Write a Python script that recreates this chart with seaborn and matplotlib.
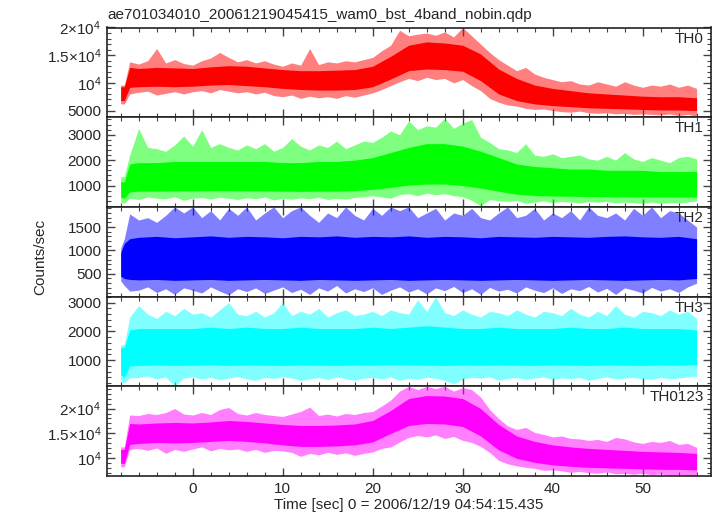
import numpy as np
import pandas as pd
import matplotlib
matplotlib.use('Agg')
import matplotlib.pyplot as plt
from matplotlib.ticker import FixedLocator, FixedFormatter, MultipleLocator
import seaborn as sns

# light curve of the WAM burst, 4 energy bands + sum
# the dense noisy curve is drawn as two bands:
# outer = spike envelope (1 s steps), core = dense part (2 s steps)

t_out = [-8, -7.6] + list(range(-7, 57))
t_core = [-8, -7.6, -7] + list(range(-6, 57, 2))

th0_hi = [9600, 9600, 13800, 13400, 14000, 16200, 13600, 14200, 13500,
          13200, 14000, 14500, 15500, 14600, 13800, 14200, 13600, 14000, 13400,
          13000, 13600, 13200, 16200, 13300, 13800, 13600, 14000, 13800, 14200,
          14600, 15800, 16800, 19500, 18500, 18800, 19000, 18600, 19200, 18300,
          20000, 18500, 17000, 15500, 14200, 13200, 12200, 12800, 11600, 11000,
          10600, 10200, 10400, 9800, 9600, 10200, 9800, 9400, 10200, 9600,
          9200, 9600, 9400, 9800, 9200, 9600, 9000]
th0_lo = [6200, 6200, 8000, 8300, 8500, 7800, 8100, 8400, 8000,
          8400, 8600, 8200, 8800, 8500, 8200, 8400, 8000, 8300, 7700,
          7500, 7800, 7200, 7600, 7300, 7500, 7200, 7700, 7400, 7800,
          8200, 8800, 9500, 10200, 10800, 10400, 11000, 10600, 10800, 10000,
          10600, 9500, 8600, 7200, 6500, 6000, 5800, 5400, 5200, 5300,
          5000, 4800, 4700, 4900, 4600, 4500, 4600, 4400, 4500, 4300,
          4400, 4300, 4200, 4400, 4100, 4300, 4000]
th0_core_hi = [9300, 9300, 12800, 12600, 12800, 12700,
               12600, 12900, 13100, 13000, 12700, 12400, 12200, 12200, 12300, 12400,
               13000, 14800, 16800, 17400, 17200, 16800, 15200, 12500, 10800, 9600,
               9000, 8600, 8200, 8000, 7800, 7600, 7500, 7500, 7300]
th0_core_lo = [6800, 6800, 9200, 9300, 9400, 9300,
               9400, 9600, 9700, 9500, 9300, 9000, 8800, 8700, 8700, 8800,
               9300, 10700, 12200, 12500, 12400, 12100, 10400, 8000, 6800, 6200,
               5900, 5700, 5500, 5400, 5300, 5200, 5100, 5100, 5000]

th1_hi = [1350, 1350, 2200, 3250, 2500, 2450, 2350, 2600, 2950,
          2550, 3200, 2500, 2650, 2500, 2400, 2600, 2450, 2650, 2350,
          2500, 2850, 2550, 2400, 2600, 2500, 2750, 2450, 2600, 2750,
          2700, 2900, 3150, 3000, 3550, 3200, 3350, 3300, 3650, 3250,
          3450, 3600, 2900, 2700, 2450, 2400, 2300, 2650, 2200, 2150,
          2250, 2100, 2150, 2200, 2050, 2000, 2150, 2000, 2300, 2050,
          1950, 2100, 2000, 1900, 2100, 2150, 2050]
th1_lo = [350, 300, 500, 450, 550, 500, 480, 560, 420,
          500, 530, 470, 540, 500, 450, 520, 480, 550, 430,
          500, 460, 520, 480, 540, 450, 500, 470, 530, 560,
          600, 550, 500, 650, 680, 600, 700, 640, 680, 600,
          560, 420, 200, 450, 400, 380, 420, 300, 350, 400,
          330, 380, 350, 320, 370, 340, 380, 320, 350, 330,
          300, 360, 300, 340, 320, 350, 400]
th1_core_hi = [1150, 1150, 1850, 1900, 1900, 1950,
               1950, 1950, 1950, 1950, 1950, 1900, 1900, 1950, 1950, 2000,
               2100, 2300, 2500, 2650, 2650, 2550, 2350, 2100, 1850, 1750,
               1700, 1650, 1650, 1600, 1600, 1600, 1550, 1550, 1550]
th1_core_lo = [550, 500, 750, 780, 780, 790,
               790, 800, 800, 790, 790, 780, 770, 780, 780, 800,
               850, 930, 1020, 1060, 1060, 1000, 900, 780, 660, 610,
               590, 580, 570, 560, 560, 560, 550, 550, 550]

th2_hi = [1050, 1250, 1780, 1650, 1700, 1600, 1750, 1930, 1800,
          1930, 1700, 1850, 1650, 1900, 1750, 1930, 1650, 1800, 1930,
          1700, 1850, 1930, 1750, 1600, 1800, 1700, 1930, 1750, 1650,
          1900, 1750, 1930, 1850, 1930, 1700, 1800, 1900, 1650, 1800,
          1750, 1900, 1700, 1650, 1800, 1930, 1700, 1750, 1900, 1650,
          1800, 1700, 1850, 1650, 1930, 1750, 1700, 1800, 1650, 1900,
          1750, 1930, 1700, 1850, 1800, 1650, 1500]
th2_lo = [350, 250, 130, 150, 220, 100, 180, 60, 200,
          150, 90, 220, 130, 50, 180, 120, 200, 80, 150,
          220, 100, 170, 60, 200, 130, 250, 90, 180, 120,
          200, 60, 150, 220, 110, 180, 70, 200, 140, 230,
          100, 180, 60, 210, 130, 170, 90, 220, 150, 100,
          200, 80, 180, 140, 230, 110, 190, 60, 200, 150,
          90, 210, 130, 180, 100, 220, 300]
th2_core_hi = [950, 1150, 1250, 1280, 1300, 1270,
               1290, 1310, 1280, 1300, 1290, 1270, 1300, 1290, 1310, 1280,
               1300, 1290, 1310, 1280, 1300, 1290, 1270, 1300, 1290, 1280,
               1300, 1290, 1280, 1300, 1310, 1290, 1280, 1300, 1250]
th2_core_lo = [450, 400, 380, 370, 380, 360,
               370, 380, 360, 370, 380, 370, 360, 380, 370, 360,
               370, 380, 360, 370, 380, 370, 360, 370, 380, 370,
               360, 370, 380, 370, 360, 370, 380, 370, 400]

th3_hi = [1530, 1550, 2500, 2900, 2600, 2450, 2700, 2550, 2800,
          2600, 2650, 2500, 2750, 3000, 2600, 2550, 2700, 2500, 2650,
          3000, 2550, 2700, 2600, 2800, 2500, 2650, 2750, 2550, 2600,
          2700, 2550, 2750, 2650, 2600, 3100, 2700, 3200, 2650, 2550,
          2750, 2600, 2500, 2700, 2650, 2550, 2750, 2600, 2500, 2700,
          2650, 2550, 2800, 2600, 2500, 2700, 2550, 2900, 2600, 2500,
          2700, 2650, 2550, 2750, 2600, 2700, 2450]
th3_lo = [250, 220, 380, 400, 450, 350, 420, 100, 380,
          420, 350, 400, 320, 380, 430, 350, 300, 400, 370,
          420, 380, 300, 350, 400, 330, 420, 360, 300, 380,
          400, 350, 420, 300, 380, 340, 410, 370, 300, 180,
          350, 400, 380, 420, 300, 370, 400, 340, 380, 420,
          330, 390, 350, 400, 300, 370, 420, 350, 380, 400,
          360, 330, 410, 350, 380, 420, 450]
th3_core_hi = [1450, 1450, 2050, 2100, 2100, 2100,
               2100, 2150, 2100, 2150, 2100, 2100, 2150, 2100, 2100, 2100,
               2150, 2100, 2150, 2200, 2150, 2100, 2100, 2150, 2100, 2100,
               2100, 2150, 2100, 2100, 2150, 2100, 2100, 2100, 2050]
th3_core_lo = [500, 400, 800, 820, 840, 820,
               830, 850, 820, 840, 830, 820, 840, 830, 820, 840,
               830, 850, 840, 830, 820, 840, 830, 840, 830, 820,
               840, 830, 820, 840, 830, 820, 840, 830, 850]

sum_hi = [12300, 12300, 18700, 18600, 19000, 18800, 19200, 20000, 18900,
          18700, 19200, 18800, 19800, 20200, 19000, 18700, 19200, 18800, 18600,
          18400, 18900, 19400, 20300, 18600, 18900, 18500, 19000, 18800, 19200,
          19400, 20500, 21700, 23500, 24460, 23800, 24460, 24000, 24460, 23500,
          24200, 23800, 22300, 19800, 18000, 16500, 15800, 16200, 15200, 14800,
          14300, 14500, 14000, 13900, 13600, 13800, 13400, 14200, 13900, 13300,
          13000, 13400, 13200, 13600, 12800, 13000, 12200]
sum_lo = [8300, 8300, 11800, 12000, 11600, 12100, 11000, 11800, 11400,
          11900, 12300, 11500, 12000, 11700, 11900, 11400, 11800, 11200, 11600,
          11500, 11200, 10400, 11000, 10700, 11200, 10800, 11100, 10600, 11000,
          11300, 12000, 12300, 13300, 14200, 14600, 14300, 14700, 14000, 14400,
          13600, 13200, 12400, 11200, 9600, 8900, 8500, 8200, 8000, 7600,
          7700, 7500, 7200, 7400, 7100, 7000, 7300, 6900, 7000, 6800,
          7000, 6700, 6900, 6600, 6800, 6500, 6460]
sum_core_hi = [11800, 11800, 17000, 16900, 17100, 17200,
               17100, 17300, 17600, 17400, 17100, 16800, 16600, 16600, 16700, 16900,
               17600, 19600, 22000, 22600, 22500, 22000, 20000, 16800, 14500, 13400,
               12700, 12300, 12000, 11800, 11600, 11400, 11300, 11200, 11000]
sum_core_lo = [9000, 9000, 12800, 13000, 13200, 13100,
               13200, 13400, 13600, 13400, 13100, 12700, 12400, 12400, 12500, 12700,
               13300, 15000, 16600, 17000, 16900, 16400, 14500, 11700, 10000, 9200,
               8700, 8400, 8200, 8100, 8000, 7900, 7800, 7800, 7700]

names = ['TH0', 'TH1', 'TH2', 'TH3', 'TH0123']
colors = ['#ff0000', '#00ff00', '#0000ff', '#00ffff', '#ff00ff']
ylims = [(3800, 20000), (160, 3690), (13, 1930), (94, 3210), (6460, 24460)]
yminor = [1000, 200, 100, 200, 1000]
yticks = [[5000, 10000, 15000, 20000], [1000, 2000, 3000], [500, 1000, 1500],
          [1000, 2000, 3000], [10000, 15000, 20000]]
ylabels = [['5000', r'$\mathregular{10^4}$', r'$\mathregular{1.5{\times}10^4}$', r'$\mathregular{2{\times}10^4}$'],
           ['1000', '2000', '3000'], ['500', '1000', '1500'], ['1000', '2000', '3000'],
           [r'$\mathregular{10^4}$', r'$\mathregular{1.5{\times}10^4}$', r'$\mathregular{2{\times}10^4}$']]
series = [(th0_lo, th0_hi, th0_core_lo, th0_core_hi),
          (th1_lo, th1_hi, th1_core_lo, th1_core_hi),
          (th2_lo, th2_hi, th2_core_lo, th2_core_hi),
          (th3_lo, th3_hi, th3_core_lo, th3_core_hi),
          (sum_lo, sum_hi, sum_core_lo, sum_core_hi)]


def band(ax, t, lo, hi, color, alpha):
    # min/max band through seaborn: percentile interval of width 100 over 2 values
    df = pd.DataFrame({'t': list(t) * 2, 'v': list(lo) + list(hi)})
    sns.lineplot(data=df, x='t', y='v', ax=ax, estimator='mean', errorbar=('pi', 100),
                 color=color, linewidth=0, err_kws={'alpha': alpha, 'linewidth': 0})


sns.set_style('ticks')
plt.rcParams['font.family'] = ['Liberation Sans', 'DejaVu Sans']
plt.rcParams['mathtext.fontset'] = 'custom'
plt.rcParams['mathtext.rm'] = 'Liberation Sans'

W, H = 717, 516
fig, axes = plt.subplots(5, 1, sharex=True, figsize=(W / 100, H / 100), dpi=100)
fig.subplots_adjust(left=107 / W, right=711 / W, top=1 - 27.5 / H, bottom=1 - 476 / H, hspace=0)

for i, ax in enumerate(axes):
    lo, hi, clo, chi = series[i]
    band(ax, t_out, lo, hi, colors[i], 0.5)
    band(ax, t_core, clo, chi, colors[i], 1.0)
    ax.set_xlim(-9.52, 57.6)
    ax.set_ylim(*ylims[i])
    ax.yaxis.set_major_locator(FixedLocator(yticks[i]))
    ax.yaxis.set_major_formatter(FixedFormatter(ylabels[i]))
    ax.yaxis.set_minor_locator(MultipleLocator(yminor[i]))
    ax.xaxis.set_major_locator(MultipleLocator(10))
    ax.xaxis.set_minor_locator(MultipleLocator(2))
    ax.tick_params(which='both', direction='in', top=True, right=True,
                   color='#444444', labelsize=11, pad=4)
    ax.tick_params(which='major', length=6, width=1)
    ax.tick_params(which='minor', length=3, width=0.8)
    for s in ax.spines.values():
        s.set_color('#222222')
        s.set_linewidth(1.2)
    ax.set_ylabel('')
    ax.set_xlabel('')
    ax.text(0.988, 0.955, names[i], transform=ax.transAxes, ha='right', va='top', fontsize=11)

axes[-1].set_xlabel('Time [sec] 0 = 2006/12/19 04:54:15.435', fontsize=11, labelpad=2)
fig.text(40 / W, 1 - 257 / H, 'Counts/sec', rotation=90, ha='center', va='center', fontsize=11)
fig.text(107 / W, 1 - 15 / H, 'ae701034010_20061219045415_wam0_bst_4band_nobin.qdp',
         ha='left', va='center', fontsize=11)

fig.savefig('out.png', dpi=100)
